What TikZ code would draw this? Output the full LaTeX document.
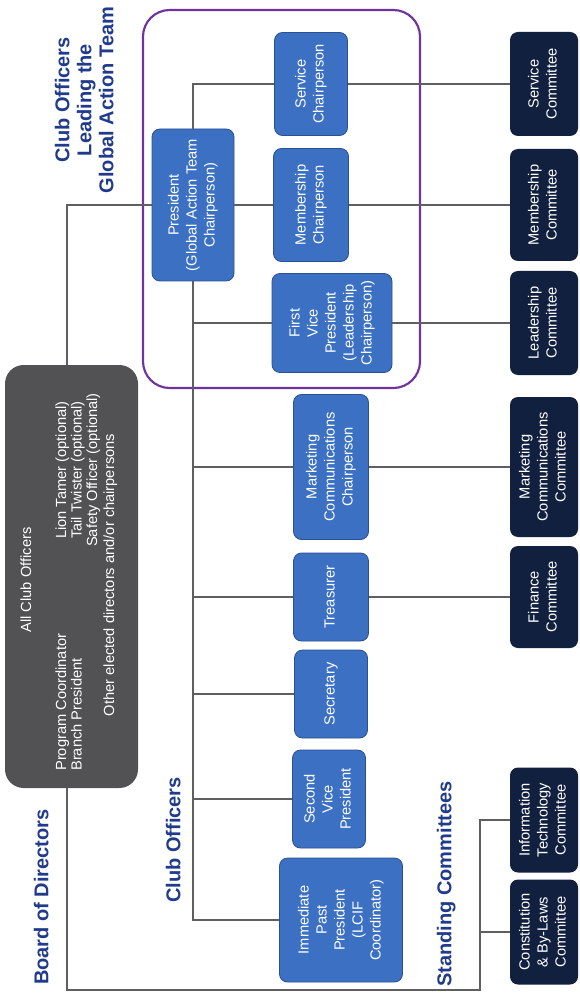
\documentclass[tikz,border=0pt]{standalone}
\usepackage{fontspec}
\setmainfont{Liberation Sans}
\usepackage{graphicx}
\usepackage{xcolor}
\usepackage{tikz}
\usetikzlibrary{positioning}
\definecolor{offblue}{RGB}{60,112,194}
\definecolor{offedge}{RGB}{42,80,145}
\definecolor{cmtnavy}{RGB}{17,32,62}
\definecolor{brdgrey}{RGB}{82,82,85}
\definecolor{headblue}{RGB}{32,58,140}
\definecolor{teampurple}{RGB}{112,50,160}
\definecolor{wiregrey}{RGB}{95,95,95}
\newcommand{\vlab}[1]{\rotatebox{90}{\begin{tabular}{@{}c@{}}#1\end{tabular}}}
\newcommand{\vlabl}[1]{\rotatebox{90}{\begin{tabular}{@{}l@{}}#1\end{tabular}}}

\begin{document}
\begin{tikzpicture}[x=0.75pt, y=-0.75pt,
      every node/.style={font=\fontsize{11}{13.5}\selectfont},
      sz/.style 2 args={minimum width=#1*0.75pt, minimum height=#2*0.75pt},
      f/.style={rounded corners=6pt, inner sep=1pt, text=white},
      off/.style={f, draw=offedge, fill=offblue, line width=0.6pt},
      cmt/.style={f, fill=cmtnavy},
      hd/.style={inner sep=0pt, text=headblue, font=\bfseries\fontsize{15}{16.5}\selectfont},
      wt/.style={inner sep=0pt, text=white, font=\fontsize{11}{11.6}\selectfont},
      link/.style={draw=wiregrey, line width=0.9pt}]
    \useasboundingbox (0,0) rectangle (580,998);

    \node[hd] (hboard) at (44,897) {\vlab{Board of Directors}};
    \node[hd] (hteam) at (87,100) {\vlab{Club Officers\\Leading the\\Global Action Team}};
    \node[hd] (hclub) at (176,840) {\vlab{Club Officers}};
    \node[hd] (hstand) at (447,884) {\vlab{Standing Committees}};

    \node[f, fill=brdgrey, sz={133}{423}, rounded corners=14pt] (brd) at (71.5,576.5) {};
    \node[wt] (allof) at (28,580) {\vlab{All Club Officers}};
    \node[wt, anchor=south west] (progcol) at (55,771) {\vlabl{Program Coordinator\\Branch President}};
    \node[wt, anchor=west] (optcol) at (55,470) {\vlab{Lion Tamer (optional)\\Tail Twister (optional)\\Safety Officer (optional)}};
    \node[wt] (other) at (111,575) {\vlab{Other elected directors and/or chairpersons}};

    \draw[teampurple, line width=1.6pt, rounded corners=20pt] (143,10) rectangle (420,388);

    \node[off, sz={82}{152}] (pres) at (193,205) {\vlab{President\\(Global Action Team\\Chairperson)}};
    \node[off, sz={73}{103}] (svc) at (311,84) {\vlab{Service\\Chairperson}};
    \node[off, sz={75}{113}] (mem) at (311,205) {\vlab{Membership\\Chairperson}};
    \node[off, sz={120}{99}] (fvp) at (332,323) {\vlab{First\\Vice\\President\\(Leadership\\Chairperson)}};
    \node[off, sz={75}{145}] (mkt) at (331,467) {\vlab{Marketing\\Communications\\Chairperson}};
    \node[off, sz={75}{88}] (tre) at (331,597) {\vlab{Treasurer}};
    \node[off, sz={73}{88}] (sec) at (331,694) {\vlab{Secretary}};
    \node[off, sz={73}{98}] (svp) at (329,799) {\vlab{Second\\Vice\\President}};
    \node[off, sz={123}{124}] (ipp) at (341,920) {\vlab{Immediate\\Past\\President\\(LCIF\\Coordinator)}};

    \node[cmt, sz={68}{104}] (c_svc) at (544,84) {\vlab{Service\\Committee}};
    \node[cmt, sz={68}{112}] (c_mem) at (544,205) {\vlab{Membership\\Committee}};
    \node[cmt, sz={68}{104}] (c_lead) at (544,323) {\vlab{Leadership\\Committee}};
    \node[cmt, sz={68}{140}] (c_mkt) at (544,467) {\vlab{Marketing\\Communications\\Committee}};
    \node[cmt, sz={68}{102}] (c_fin) at (544,597) {\vlab{Finance\\Committee}};
    \node[cmt, sz={68}{105}] (c_it) at (544,820) {\vlab{Information\\Technology\\Committee}};
    \node[cmt, sz={68}{105}] (c_con) at (544,932) {\vlab{Constitution\\\& By-Laws\\Committee}};

    \coordinate (sc) at (480,990);
    \draw[link] (pres.west) -| ([xshift=-3.4pt]brd.north);
    \draw[link] ([xshift=-3.4pt]brd.south) |- (sc) |- (c_it.west);
    \draw[link] (sc |- c_con.west) -- (c_con.west);
    \draw[link] (pres.north) |- (svc.west);
    \draw[link] (pres.east) -- (mem.west);
    \draw[link] (pres.south) |- (ipp.west);
    \foreach \n in {fvp,mkt,tre,sec,svp}
      \draw[link] (pres.south) |- (\n.west);
    \foreach \a/\b in {svc/c_svc, mem/c_mem, fvp/c_lead, mkt/c_mkt, tre/c_fin}
      \draw[link] (\a.east) -- (\b.west);
  \end{tikzpicture}
\end{document}
